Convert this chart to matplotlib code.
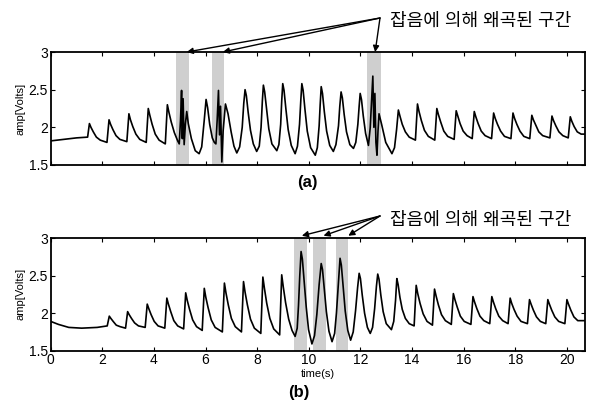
import matplotlib
matplotlib.use('Agg')
import matplotlib.pyplot as plt

plt.rcParams['font.family'] = ['Liberation Sans', 'Noto Sans CJK KR', 'DejaVu Sans']

# signal (a): (time, volts)
wave_a = [
    (0, 1.82), (0.5, 1.84), (1.0, 1.86), (1.43, 1.87),
    (1.50, 2.05), (1.56, 2.00), (1.65, 1.94), (1.77, 1.87), (1.92, 1.83), (2.18, 1.80),
    (2.26, 2.10), (2.32, 2.04), (2.41, 1.97), (2.53, 1.89), (2.68, 1.84), (2.95, 1.81),
    (3.03, 2.18), (3.09, 2.10), (3.18, 2.01), (3.30, 1.91), (3.45, 1.84), (3.70, 1.80),
    (3.78, 2.25), (3.84, 2.16), (3.93, 2.04), (4.05, 1.91), (4.20, 1.83), (4.44, 1.78),
    (4.52, 2.30), (4.58, 2.20), (4.67, 2.07), (4.79, 1.93), (4.92, 1.82),
    (4.98, 1.78), (5.03, 2.10), (5.07, 2.49), (5.10, 1.85), (5.13, 2.38),
    (5.17, 1.77), (5.22, 2.05), (5.27, 2.21), (5.33, 2.05), (5.45, 1.85),
    (5.60, 1.69), (5.75, 1.65),
    (5.85, 1.74), (5.95, 2.10), (6.02, 2.37), (6.08, 2.26), (6.16, 2.04), (6.26, 1.86), (6.34, 1.80),
    (6.40, 1.78), (6.45, 2.10), (6.50, 2.49), (6.54, 1.90), (6.58, 2.28),
    (6.63, 1.54), (6.68, 1.95), (6.77, 2.31), (6.87, 2.18), (6.99, 1.94),
    (7.10, 1.75), (7.21, 1.66),
    (7.32, 1.74), (7.42, 2.00), (7.48, 2.32), (7.53, 2.50), (7.58, 2.42), (7.65, 2.20),
    (7.74, 1.96), (7.85, 1.78), (7.98, 1.68),
    (8.08, 1.75), (8.15, 2.00), (8.20, 2.35), (8.24, 2.56), (8.29, 2.47), (8.36, 2.25),
    (8.45, 1.98), (8.57, 1.78), (8.76, 1.69),
    (8.84, 1.77), (8.91, 2.04), (8.95, 2.35), (8.99, 2.58), (9.04, 2.49), (9.11, 2.25),
    (9.20, 1.97), (9.32, 1.76), (9.47, 1.65),
    (9.56, 1.75), (9.64, 2.04), (9.69, 2.36), (9.73, 2.58), (9.78, 2.49), (9.85, 2.24),
    (9.94, 1.95), (10.07, 1.73), (10.25, 1.63),
    (10.33, 1.73), (10.40, 2.02), (10.44, 2.30), (10.48, 2.54), (10.53, 2.45), (10.60, 2.21),
    (10.69, 1.95), (10.81, 1.76), (10.95, 1.68),
    (11.05, 1.77), (11.15, 2.02), (11.20, 2.28), (11.25, 2.47), (11.30, 2.39), (11.37, 2.17),
    (11.46, 1.94), (11.59, 1.77), (11.73, 1.72),
    (11.82, 1.80), (11.90, 2.04), (11.95, 2.28), (11.99, 2.45), (12.04, 2.37), (12.11, 2.15),
    (12.20, 1.92), (12.31, 1.76),
    (12.38, 2.00), (12.44, 2.40), (12.48, 2.68), (12.52, 2.00), (12.56, 2.45),
    (12.60, 1.80), (12.64, 1.63), (12.68, 1.95), (12.72, 2.18), (12.82, 2.04),
    (12.98, 1.80), (13.22, 1.65),
    (13.32, 1.73), (13.40, 1.97), (13.47, 2.23), (13.53, 2.15), (13.62, 2.04), (13.74, 1.94), (13.89, 1.87), (14.13, 1.83),
    (14.21, 2.31), (14.27, 2.21), (14.36, 2.09), (14.48, 1.96), (14.63, 1.88), (14.88, 1.83),
    (14.96, 2.25), (15.02, 2.17), (15.11, 2.07), (15.23, 1.95), (15.38, 1.88), (15.63, 1.84),
    (15.71, 2.22), (15.77, 2.15), (15.86, 2.05), (15.98, 1.95), (16.13, 1.89), (16.33, 1.85),
    (16.41, 2.21), (16.47, 2.14), (16.56, 2.05), (16.68, 1.95), (16.83, 1.89), (17.08, 1.85),
    (17.16, 2.19), (17.22, 2.12), (17.31, 2.04), (17.43, 1.95), (17.58, 1.88), (17.83, 1.85),
    (17.91, 2.19), (17.97, 2.12), (18.06, 2.04), (18.18, 1.95), (18.33, 1.88), (18.56, 1.85),
    (18.64, 2.16), (18.70, 2.10), (18.79, 2.03), (18.91, 1.94), (19.06, 1.89), (19.34, 1.86),
    (19.42, 2.15), (19.48, 2.09), (19.57, 2.02), (19.69, 1.94), (19.84, 1.89), (20.05, 1.86),
    (20.13, 2.14), (20.19, 2.08), (20.28, 2.01), (20.40, 1.94), (20.55, 1.91), (20.70, 1.91),
]

# signal (b)
wave_b = [
    (0, 1.89), (0.3, 1.85), (0.7, 1.81), (1.2, 1.80), (1.8, 1.81), (2.19, 1.83),
    (2.27, 1.96), (2.33, 1.93), (2.42, 1.89), (2.54, 1.84), (2.69, 1.82), (2.90, 1.80),
    (2.98, 2.02), (3.04, 1.98), (3.13, 1.93), (3.25, 1.87), (3.40, 1.83), (3.66, 1.81),
    (3.74, 2.12), (3.80, 2.06), (3.89, 1.98), (4.01, 1.89), (4.16, 1.83), (4.42, 1.80),
    (4.50, 2.20), (4.56, 2.12), (4.65, 2.02), (4.77, 1.90), (4.92, 1.83), (5.15, 1.79),
    (5.23, 2.27), (5.29, 2.17), (5.38, 2.05), (5.50, 1.91), (5.65, 1.82), (5.87, 1.77),
    (5.95, 2.33), (6.01, 2.21), (6.10, 2.07), (6.22, 1.91), (6.37, 1.81), (6.65, 1.75),
    (6.73, 2.40), (6.79, 2.27), (6.88, 2.11), (7.00, 1.93), (7.15, 1.82), (7.39, 1.75),
    (7.47, 2.42), (7.53, 2.28), (7.62, 2.11), (7.74, 1.92), (7.89, 1.80), (8.14, 1.73),
    (8.22, 2.48), (8.28, 2.33), (8.37, 2.13), (8.49, 1.93), (8.64, 1.79), (8.87, 1.71),
    (8.95, 2.51), (9.01, 2.35), (9.10, 2.14), (9.22, 1.92), (9.35, 1.77), (9.47, 1.69),
    (9.55, 1.80), (9.60, 2.10), (9.65, 2.50), (9.70, 2.82), (9.75, 2.72), (9.82, 2.42),
    (9.90, 2.08), (9.99, 1.78), (10.12, 1.59),
    (10.22, 1.70), (10.31, 1.98), (10.40, 2.38), (10.48, 2.66), (10.53, 2.58), (10.60, 2.32),
    (10.68, 2.02), (10.78, 1.76), (10.90, 1.62),
    (11.00, 1.73), (11.07, 2.00), (11.15, 2.42), (11.21, 2.73), (11.26, 2.64), (11.33, 2.36),
    (11.41, 2.03), (11.51, 1.77), (11.62, 1.64),
    (11.72, 1.75), (11.81, 2.03), (11.89, 2.34), (11.95, 2.53), (12.00, 2.46), (12.07, 2.24),
    (12.16, 2.00), (12.27, 1.81), (12.38, 1.73),
    (12.47, 1.81), (12.55, 2.06), (12.62, 2.36), (12.67, 2.52), (12.72, 2.45), (12.79, 2.24),
    (12.88, 2.02), (13.00, 1.86), (13.20, 1.78),
    (13.29, 1.89), (13.36, 2.17), (13.41, 2.46), (13.46, 2.38), (13.53, 2.21), (13.62, 2.05),
    (13.74, 1.93), (13.89, 1.86), (14.08, 1.83),
    (14.16, 2.37), (14.22, 2.26), (14.31, 2.13), (14.43, 1.99), (14.58, 1.89), (14.79, 1.84),
    (14.87, 2.32), (14.93, 2.23), (15.02, 2.11), (15.14, 1.98), (15.29, 1.90), (15.52, 1.85),
    (15.60, 2.26), (15.66, 2.18), (15.75, 2.08), (15.87, 1.96), (16.02, 1.89), (16.28, 1.85),
    (16.36, 2.22), (16.42, 2.15), (16.51, 2.06), (16.63, 1.96), (16.78, 1.90), (17.01, 1.86),
    (17.09, 2.22), (17.15, 2.15), (17.24, 2.06), (17.36, 1.96), (17.51, 1.90), (17.72, 1.86),
    (17.80, 2.20), (17.86, 2.13), (17.95, 2.05), (18.07, 1.96), (18.22, 1.89), (18.47, 1.86),
    (18.55, 2.18), (18.61, 2.12), (18.70, 2.04), (18.82, 1.95), (18.97, 1.89), (19.18, 1.86),
    (19.26, 2.18), (19.32, 2.12), (19.41, 2.04), (19.53, 1.95), (19.68, 1.89), (19.92, 1.86),
    (20.00, 2.18), (20.06, 2.12), (20.15, 2.04), (20.27, 1.95), (20.42, 1.90), (20.70, 1.90),
]

# distorted segments (start, end) in seconds
spans_a = [(4.86, 5.35), (6.25, 6.73), (12.27, 12.79)]
spans_b = [(9.43, 9.92), (10.18, 10.67), (11.06, 11.53)]
arrow_a = [5.27, 6.67, 12.57]
arrow_b = [9.73, 10.57, 11.53]

note = '잡음에 의해 왜곡된 구간'
xticks = [0, 2, 4, 6, 8, 10, 12, 14, 16, 18, 20]
yticks = [1.5, 2, 2.5, 3]
ylabels = ['1.5', '2', '2.5', '3']

fig = plt.figure(figsize=(5.9, 4.05), dpi=100)
W, H = 590, 405


def px_axes(left, top, right, bottom):
    return fig.add_axes([left / W, 1 - bottom / H, (right - left) / W, (bottom - top) / H])


ax_a = px_axes(50.7, 52, 585, 165)
ax_b = px_axes(50.7, 238, 585, 350.7)

for ax, wave, spans, show_x in [(ax_a, wave_a, spans_a, False),
                                (ax_b, wave_b, spans_b, True)]:
    t, v = zip(*wave)
    for s, e in spans:
        ax.axvspan(s, e, color='#cfcfcf', lw=0, zorder=0)
    ax.plot(t, v, color='black', lw=1.2)
    ax.set_xlim(0, 20.7)
    ax.set_ylim(1.5, 3)
    ax.set_yticks(yticks)
    ax.set_yticklabels(ylabels)
    ax.set_xticks(xticks)
    if not show_x:
        ax.set_xticklabels([])
    ax.tick_params(direction='in', top=True, right=True, length=3, width=0.8,
                   labelsize=10, pad=2)
    for sp in ax.spines.values():
        sp.set_linewidth(1.3)
    ax.set_ylabel('amp[Volts]', fontsize=8, labelpad=2)

ax_b.set_xlabel('time(s)', fontsize=8, labelpad=1)

arrow_style = dict(arrowstyle='-|>', color='black', lw=1.0,
                   mutation_scale=9, shrinkA=0, shrinkB=0)

# annotations
fig.text(390 / W, 1 - 21 / H, note, fontsize=13, va='center', ha='left')
for xa in arrow_a:
    ax_a.annotate('', xy=(xa, 3.0), xycoords='data',
                  xytext=(380, H - 18), textcoords='figure pixels',
                  arrowprops=arrow_style, annotation_clip=False)

fig.text(390 / W, 1 - 220 / H, note, fontsize=13, va='center', ha='left')
for xb in arrow_b:
    ax_b.annotate('', xy=(xb, 3.03), xycoords='data',
                  xytext=(380, H - 216), textcoords='figure pixels',
                  arrowprops=arrow_style, annotation_clip=False)

fig.text(307 / W, 1 - 182 / H, '(a)', fontsize=12, fontweight='bold', ha='center', va='center')
fig.text(299 / W, 1 - 393 / H, '(b)', fontsize=12, fontweight='bold', ha='center', va='center')

fig.savefig('out.png', dpi=100)
